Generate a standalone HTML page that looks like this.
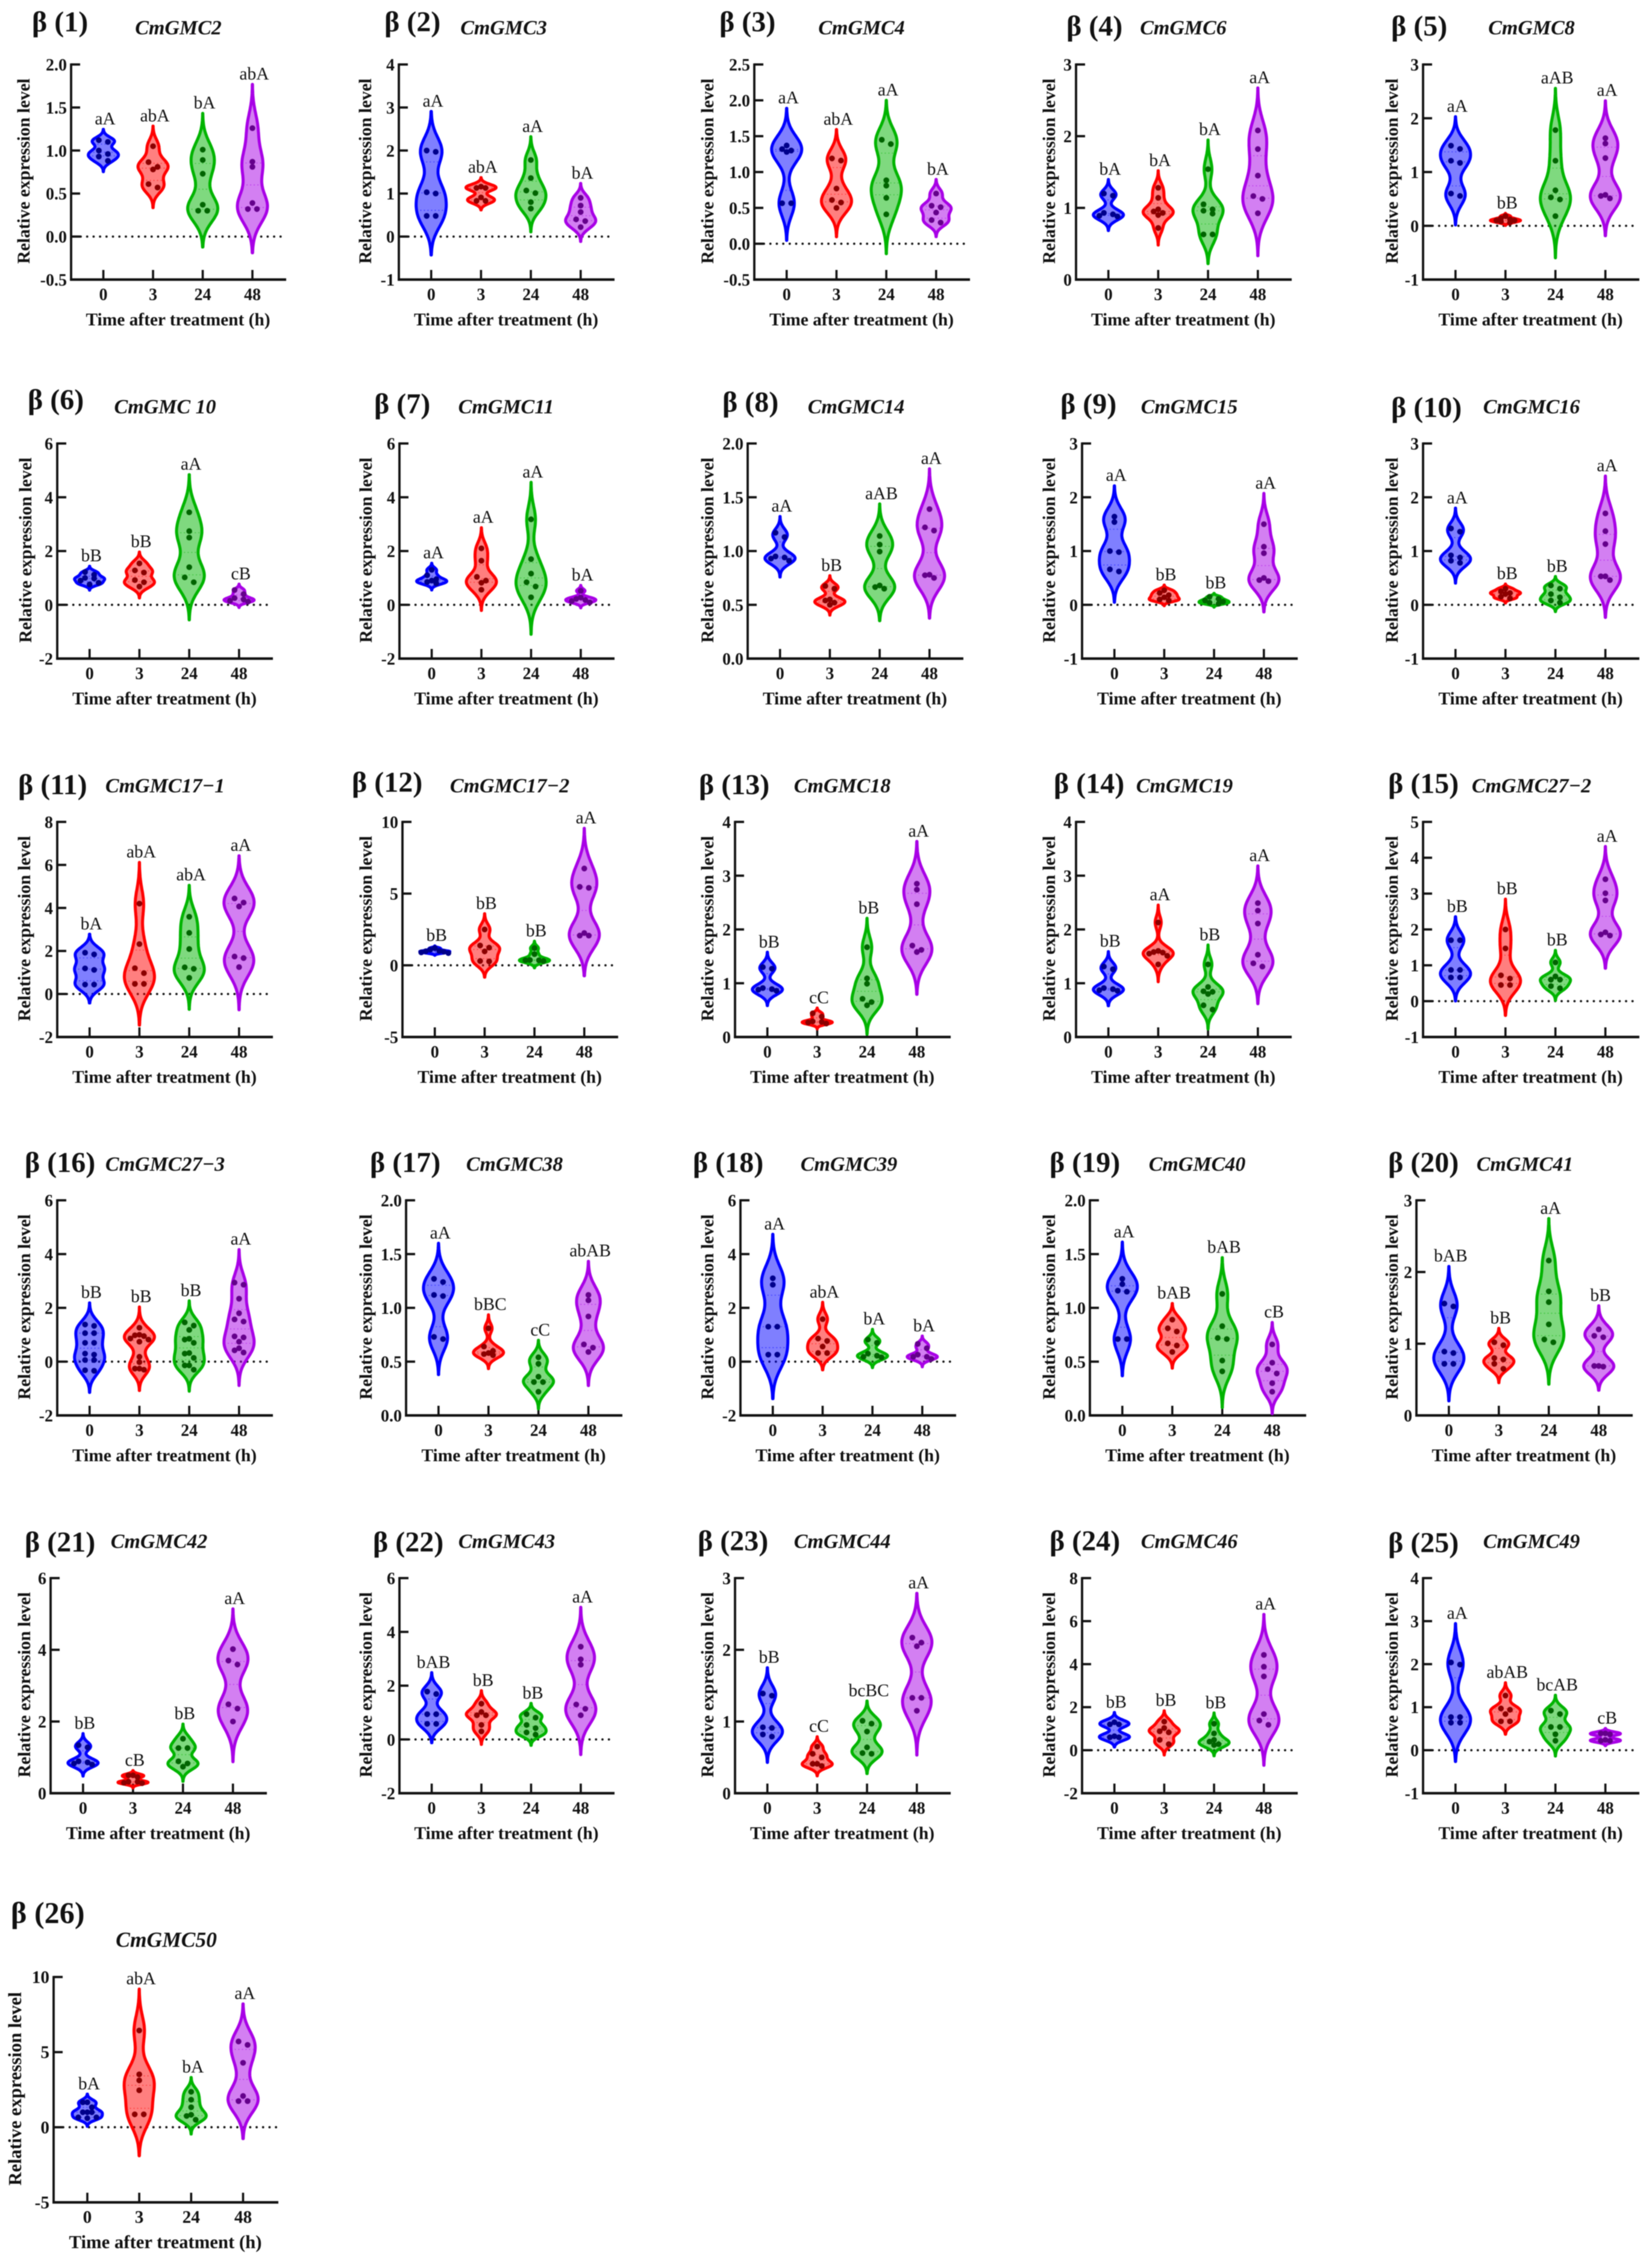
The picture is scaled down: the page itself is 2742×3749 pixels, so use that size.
<!DOCTYPE html>
<html lang="en">
<head>
<meta charset="utf-8">
<title>Relative expression of CmGMC genes</title>
<style>
html,body{margin:0;padding:0;background:#fff;}
#chart{display:block;position:absolute;left:0;top:0;filter:blur(0.8px);}
text{font-family:"Liberation Serif","Noto Serif CJK SC",serif;fill:#111;}
</style>
</head>
<body>
<svg id="chart" width="2742" height="3749" viewBox="0 0 2742 3749" xmlns="http://www.w3.org/2000/svg"></svg>
<script>
const timeCategories = ['0','3','24','48'];
const geneNames = ['CmGMC2','CmGMC3','CmGMC4','CmGMC6','CmGMC8','CmGMC 10','CmGMC11','CmGMC14','CmGMC15','CmGMC16','CmGMC17\u22121','CmGMC17\u22122','CmGMC18','CmGMC19','CmGMC27\u22122','CmGMC27\u22123','CmGMC38','CmGMC39','CmGMC40','CmGMC41','CmGMC42','CmGMC43','CmGMC44','CmGMC46','CmGMC49','CmGMC50'];
const yTickLabels = [
['-0.5','0.0','0.5','1.0','1.5','2.0'],['-1','0','1','2','3','4'],['-0.5','0.0','0.5','1.0','1.5','2.0','2.5'],['0','1','2','3'],['-1','0','1','2','3'],
['-2','0','2','4','6'],['-2','0','2','4','6'],['0.0','0.5','1.0','1.5','2.0'],['-1','0','1','2','3'],['-1','0','1','2','3'],
['-2','0','2','4','6','8'],['-5','0','5','10'],['0','1','2','3','4'],['0','1','2','3','4'],['-1','0','1','2','3','4','5'],
['-2','0','2','4','6'],['0.0','0.5','1.0','1.5','2.0'],['-2','0','2','4','6'],['0.0','0.5','1.0','1.5','2.0'],['0','1','2','3'],
['0','2','4','6'],['-2','0','2','4','6'],['0','1','2','3'],['-2','0','2','4','6','8'],['-1','0','1','2','3','4'],
['-5','0','5','10']];
const significanceLabels = [
['aA','abA','bA','abA'],['aA','abA','aA','bA'],['aA','abA','aA','bA'],['bA','bA','bA','aA'],['aA','bB','aAB','aA'],
['bB','bB','aA','cB'],['aA','aA','aA','bA'],['aA','bB','aAB','aA'],['aA','bB','bB','aA'],['aA','bB','bB','aA'],
['bA','abA','abA','aA'],['bB','bB','bB','aA'],['bB','cC','bB','aA'],['bB','aA','bB','aA'],['bB','bB','bB','aA'],
['bB','bB','bB','aA'],['aA','bBC','cC','abAB'],['aA','abA','bA','bA'],['aA','bAB','bAB','cB'],['bAB','bB','aA','bB'],
['bB','cB','bB','aA'],['bAB','bB','bB','aA'],['bB','cC','bcBC','aA'],['bB','bB','bB','aA'],['aA','abAB','bcAB','cB'],
['bA','abA','bA','aA']];
const expressionValues = [
[[1.12,1.10,1.00,.96,.93,.88],[1.05,.865,.81,.78,.61,.57],[1.01,.89,.73,.37,.30,.30],[1.26,.87,.81,.39,.32,.32]],
[[2.0,1.97,1.03,1.0,.48,.48],[1.16,1.13,1.13,.91,.83,.83],[1.78,1.36,1.07,1.01,.80,.65],[.90,.72,.57,.40,.36,.22]],
[[1.37,1.32,1.30,1.28,.565,.565],[1.19,1.16,.77,.61,.575,.50],[1.45,1.39,.885,.81,.64,.41],[.70,.53,.51,.435,.33,.295]],
[[1.2,1.17,.93,.91,.89,.88],[1.28,1.14,.98,.95,.93,.90,.72],[1.54,1.05,.98,.96,.92,.63,.63],[2.08,1.82,1.45,1.165,1.125,.925]],
[[1.49,1.43,1.21,1.17,.6,.555],[.18,.14,.12,.1,.1,.08,.06],[1.78,1.21,.66,.53,.49,.18],[1.63,1.53,1.26,.575,.555,.51]],
[[1.22,1.12,1.0,.98,.9,.82,.76],[1.54,1.28,1.2,.92,.84,.68],[3.44,2.74,2.5,1.4,1.02,.84],[.55,.4,.25,.2,.15,.12]],
[[1.3,1.1,.95,.9,.85,.8],[2.1,1.64,1.04,.9,.82,.56],[3.18,1.7,1.16,.84,.68,.28],[.52,.27,.22,.18,.14,.09]],
[[1.17,1.13,.95,.94,.93,.91],[.675,.65,.55,.54,.52,.50],[1.14,1.06,.995,.68,.665,.65],[1.39,1.22,1.19,.78,.775,.75]],
[[1.64,1.54,1.0,.98,.66,.62],[.27,.22,.18,.14,.1,.08],[.15,.11,.08,.06,.04,.02],[1.5,1.08,.96,.5,.46,.44]],
[[1.42,1.36,.92,.88,.82,.78],[.3,.25,.22,.2,.15,.12],[.36,.3,.2,.14,.08,.04],[1.7,1.37,1.13,.53,.53,.46]],
[[1.92,1.84,1.19,1.12,.44,.44],[4.2,2.32,1.2,.97,.47,.47],[3.59,2.84,2.09,1.24,1.17,.75],[4.44,4.25,4.07,1.74,1.67,1.25]],
[[1.2,1.1,1.0,.98,.95,.9,.85],[2.5,1.38,1.23,.97,.3,.27],[1.2,.78,.37,.35,.35,.3],[6.75,5.47,5.4,2.25,2.07,2.07]],
[[1.3,1.27,.91,.89,.88,.86],[.44,.38,.29,.28,.27,.25],[1.67,1.09,.99,.71,.65,.59],[2.85,2.74,2.47,1.7,1.62,1.58]],
[[1.31,1.26,.91,.89,.87,.86],[2.13,1.6,1.58,1.57,1.55,1.51,1.35],[1.35,.93,.85,.84,.8,.59,.51],[2.49,2.35,2.11,1.53,1.37,1.31]],
[[1.7,1.7,.87,.87,.66,.66],[2.0,1.47,.72,.63,.45,.45],[1.08,.69,.6,.6,.42,.36],[3.4,3.01,2.81,1.92,1.86,1.83]],
[[1.38,1.33,1.06,1.06,.7,.7,.3,.26,.06,.06,-.32,-.34],[1.26,1.0,.98,.95,.86,.82,.74,.18,-.02,-.26,-.26,-.3],[1.46,1.34,1.18,.85,.82,.7,.32,.3,.14,-.14,-.14,-.3],[2.94,2.86,2.34,1.8,1.57,1.49,.94,.9,.74,.5,.42,.34]],
[[1.27,1.24,1.12,1.11,.73,.71],[.81,.64,.6,.58,.57,.56],[.54,.48,.36,.31,.31,.22],[1.12,1.07,.92,.66,.63,.59]],
[[3.1,2.86,1.3,1.3,.26,.26],[1.58,.86,.77,.56,.32,.32],[.82,.7,.3,.22,.18,.16],[.66,.5,.26,.18,.18,.1]],
[[1.27,1.22,1.16,1.15,.71,.71],[.89,.81,.78,.67,.65,.59],[1.13,.83,.72,.71,.51,.41],[.66,.49,.43,.39,.3,.22]],
[[1.56,1.52,.89,.87,.72,.72],[1.02,.98,.8,.78,.72,.65],[2.16,1.73,1.58,1.27,1.06,1.02],[1.2,1.11,1.09,.69,.69,.68]],
[[1.34,1.28,.89,.86,.83,.8],[.5,.5,.45,.32,.32,.29,.28],[1.52,1.26,1.26,.89,.83,.74],[4.02,3.7,3.59,2.48,2.36,2.0]],
[[1.78,1.69,.94,.94,.58,.58],[1.33,1.02,.9,.9,.54,.3],[.94,.81,.54,.42,.26,.18],[3.45,2.98,2.78,1.3,1.14,.9]],
[[1.39,1.36,.92,.91,.82,.79],[.65,.55,.5,.41,.41,.38],[1.01,.97,.86,.64,.56,.55],[2.17,2.1,2.05,1.33,1.33,1.15]],
[[1.3,1.2,1.2,.65,.6,.6],[1.33,1.03,.88,.83,.48,.28],[1.23,.78,.48,.4,.28,.24],[4.43,3.88,3.43,1.68,1.38,1.18]],
[[2.04,1.99,.77,.77,.64,.64],[1.27,.97,.94,.84,.67,.67],[.92,.84,.54,.54,.37,.22],[.39,.39,.37,.24,.22,.22]],
[[1.66,1.66,1.33,1.0,1.0,1.0,.66,.66,.6],[6.44,3.52,3.12,2.46,.86,.86],[2.36,1.83,1.33,.83,.75,.5],[5.71,5.48,4.29,2.08,1.74,1.74]]];

/* page layout, one row per panel: axis-left, axis-right, plot-top, plot-bottom, y-title-x, label-x, label-y, gene-x, gene-y */
const panelBoxes = [
[118,475,107,464,49,53,52,296,57],[662,1020,107,464,616,638,52,836,57],[1252,1610,107,464,1184,1194,52,1430,57],[1786,2144,107,464,1751,1770,59,1964,57],[2362,2721,107,464,2320,2309,59,2542,57],
[95,453,736,1093,52,46,679,274,686],[663,1020,736,1093,617,621,686,840,686],[1241,1599,736,1093,1184,1199,683,1421,686],[1796,2154,736,1093,1751,1760,686,1974,686],[2362,2721,736,1093,2320,2309,692,2542,686],
[95,453,1364,1721,50,30,1318,274,1315],[668,1026,1364,1721,617,584,1314,846,1315],[1220,1578,1364,1721,1184,1160,1318,1398,1315],[1786,2144,1364,1721,1751,1749,1316,1966,1315],[2362,2721,1364,1721,2320,2304,1316,2542,1315],
[95,453,1992,2349,50,41,1945,274,1943],[674,1033,1992,2349,617,614,1945,854,1943],[1229,1587,1992,2349,1184,1150,1945,1409,1943],[1809,2168,1992,2349,1751,1742,1945,1987,1943],[2351,2710,1992,2349,2320,2304,1945,2531,1943],
[84,443,2619,2976,50,41,2575,264,2569],[663,1020,2619,2976,617,619,2575,841,2569],[1220,1578,2619,2976,1184,1158,2573,1398,2569],[1796,2154,2619,2976,1751,1742,2573,1974,2569],[2362,2721,2619,2976,2320,2304,2576,2542,2569],
[89,462,3281,3655,35,18,3191,276,3231]];

const seriesStroke = ['#0000ff','#ff0000','#00b400','#a800e6'];
const seriesDot = ['#00008b','#8b0000','#006400','#64008b'];
const seriesNames = ['blue','red','green','purple'];
const NS = 'http://www.w3.org/2000/svg';
const root = document.getElementById('chart');

function make(parent, tag, attrs, content) {
  const node = document.createElementNS(NS, tag);
  for (const key in attrs) node.setAttribute(key, attrs[key]);
  if (content !== undefined) node.textContent = content;
  parent.appendChild(node);
  return node;
}
function mean(a) { return a.reduce((s, v) => s + v, 0) / a.length; }
function stdDev(a) {
  const m = mean(a);
  return Math.sqrt(a.reduce((s, v) => s + (v - m) * (v - m), 0) / (a.length - 1)) || 0.01;
}
function quantile(sorted, q) {
  const pos = (sorted.length - 1) * q, lo = Math.floor(pos), hi = Math.ceil(pos);
  return sorted[lo] + (sorted[hi] - sorted[lo]) * (pos - lo);
}
/* Gaussian kernel density of the points, cut a fixed number of bandwidths past the extremes */
function densityProfile(values) {
  const h = 0.467 * stdDev(values);
  const lo = Math.min(...values) - 2.85 * h, hi = Math.max(...values) + 2.85 * h;
  const steps = 90, rows = [];
  let peak = 0;
  for (let s = 0; s <= steps; s++) {
    const v = lo + (hi - lo) * s / steps;
    let d = 0;
    values.forEach(p => { const z = (v - p) / h; d += Math.exp(-0.5 * z * z); });
    rows.push([v, d]);
    if (d > peak) peak = d;
  }
  return { rows: rows.map(r => [r[0], r[1] / peak]), lo, hi, peak };
}
function densityAt(values, v) {
  const h = 0.467 * stdDev(values);
  let d = 0;
  values.forEach(p => { const z = (v - p) / h; d += Math.exp(-0.5 * z * z); });
  return d;
}

expressionValues.forEach((groups, pi) => {
  const box = panelBoxes[pi];
  const left = box[0], right = box[1], top = box[2], bottom = box[3];
  const w = right - left;
  const scale = w > 365 ? 1.045 : 1;
  const labels = yTickLabels[pi];
  const yMin = parseFloat(labels[0]), yMax = parseFloat(labels[labels.length - 1]);
  const yScale = v => bottom - (v - yMin) / (yMax - yMin) * (bottom - top);
  const xScale = i => left + 0.15 * w + 0.231 * w * i;

  const panel = make(root, 'g', {});
  
  

  const panelLabel = make(panel, 'text', { x: box[5], y: box[6], 'font-size': 48 * scale, 'font-weight': 'bold' }, '\u03b2 (' + (pi + 1) + ')');
  
  

  const geneTitle = make(panel, 'text', { x: box[7], y: box[8], 'font-size': 34 * scale, 'font-weight': 'bold', 'font-style': 'italic', 'text-anchor': 'middle' }, geneNames[pi]);
  
  

  const yCenter = (top + bottom) / 2 - 1.5;
  const yTitle = make(panel, 'text', { x: box[4], y: yCenter, 'font-size': 29.5 * scale, 'font-weight': 'bold', 'text-anchor': 'middle', transform: 'rotate(-90 ' + box[4] + ' ' + yCenter + ')' }, 'Relative expression level');
  
  

  const xTitle = make(panel, 'text', { x: (left + right) / 2 - 1, y: bottom + 76, 'font-size': 29.4 * scale, 'font-weight': 'bold', 'text-anchor': 'middle' }, 'Time after treatment (h)');
  
  

  if (yMin < 0) {
    const zeroLine = make(panel, 'line', { x1: left + 16, x2: right - 2, y1: yScale(0), y2: yScale(0), stroke: '#111', 'stroke-width': 3.8, 'stroke-linecap': 'round', 'stroke-dasharray': '0 10.7' });
    
    
  }

  const yAxis = make(panel, 'line', { x1: left, x2: left, y1: top - 1.8, y2: bottom + 2, stroke: '#111', 'stroke-width': 3.8 });
  
  

  const xAxis = make(panel, 'line', { x1: left - 1.8, x2: right, y1: bottom, y2: bottom, stroke: '#111', 'stroke-width': 4.2 });
  
  

  labels.forEach(label => {
    const v = parseFloat(label), y = yScale(v);
    if (v !== yMin) {
      const tick = make(panel, 'line', { x1: left, x2: left + 15, y1: y, y2: y, stroke: '#111', 'stroke-width': 3.8 });
      
      
    }
    const tickLabel = make(panel, 'text', { x: left - 7, y: y + 10, 'font-size': 28 * scale, 'font-weight': 'bold', 'text-anchor': 'end' }, label);
    
    
  });

  timeCategories.forEach((cat, ci) => {
    const x = xScale(ci);
    const tick = make(panel, 'line', { x1: x, x2: x, y1: bottom, y2: bottom - 16, stroke: '#111', 'stroke-width': 3.6 });
    
    
    const tickLabel = make(panel, 'text', { x: x, y: bottom + 34, 'font-size': 28 * scale, 'font-weight': 'bold', 'text-anchor': 'middle' }, cat);
    
    
  });

  groups.forEach((values, si) => {
    const cx = xScale(si);
    const prof = densityProfile(values);
    const halfMax = 25;
    const leftSide = prof.rows.map(r => (cx - r[1] * halfMax).toFixed(1) + ',' + yScale(r[0]).toFixed(1));
    const rightSide = prof.rows.slice().reverse().map(r => (cx + r[1] * halfMax).toFixed(1) + ',' + yScale(r[0]).toFixed(1));
    const violin = make(panel, 'path', {
      d: 'M' + leftSide.join('L') + 'L' + rightSide.join('L') + 'Z',
      fill: seriesStroke[si], 'fill-opacity': 0.5,
      stroke: seriesStroke[si], 'stroke-width': 5, 'stroke-linejoin': 'round'
    });
    
    

    const sorted = values.slice().sort((a, b) => a - b);
    [0.25, 0.5, 0.75].forEach(q => {
      const v = quantile(sorted, q);
      const half = densityAt(values, v) / prof.peak * halfMax;
      const quartile = make(panel, 'line', { x1: cx - half, x2: cx + half, y1: yScale(v), y2: yScale(v), stroke: seriesStroke[si], 'stroke-width': 1.3, 'stroke-opacity': 0.6, 'stroke-dasharray': '2 4' });
      
      
    });

    /* simple bin swarm: neighbours closer than a dot size share a row */
    const desc = values.slice().sort((a, b) => b - a);
    let i = 0;
    while (i < desc.length) {
      let j = i + 1;
      while (j < desc.length && yScale(desc[j]) - yScale(desc[i]) < 8.5) j++;
      const n = j - i;
      for (let k = 0; k < n; k++) {
        let off;
        if (n % 2 === 1) off = k === 0 ? 0 : (k % 2 ? -1 : 1) * Math.ceil(k / 2) * 7.5;
        else off = (k % 2 ? 1 : -1) * (Math.floor(k / 2) + 1) * 7.5;
        const dot = make(panel, 'circle', { cx: cx + off, cy: yScale(desc[i + k]), r: 4.8, fill: seriesDot[si] });
        
        
      }
      i = j;
    }

    const sig = make(panel, 'text', { x: cx + 3, y: yScale(prof.hi) - 8, 'font-size': 29.5, 'text-anchor': 'middle' }, significanceLabels[pi][si]);
    
    
  });
});
</script>
</body>
</html>
